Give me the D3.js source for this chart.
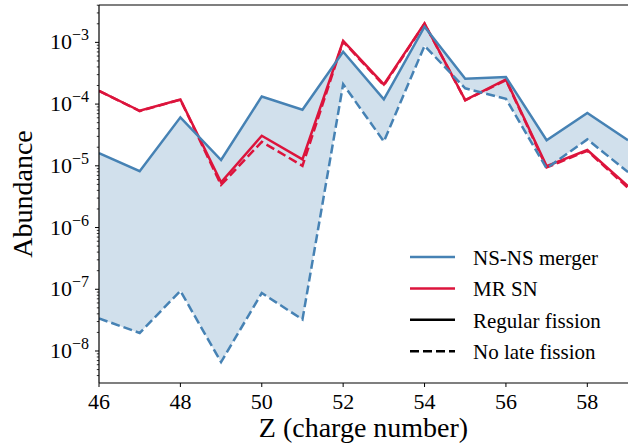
<!DOCTYPE html>
<html>
<head>
<meta charset="utf-8">
<script src="https://cdn.jsdelivr.net/npm/d3@7"></script>
<style>
  text { font-family: "Liberation Serif", "Times New Roman", Tinos, FreeSerif, Georgia, serif; }
</style>
</head>
<body style="margin:0">
<script>
var W = 628, H = 443;
var margin = {top: 5, right: 0, bottom: 60, left: 99};
var width = W - margin.left - margin.right,
    height = 383 - margin.top;

var serif = "'Liberation Serif', 'Times New Roman', Tinos, FreeSerif, Georgia, serif";

// charge number Z
var zs = [46, 47, 48, 49, 50, 51, 52, 53, 54, 55, 56, 57, 58, 59];

// NS-NS merger, regular fission / no late fission
var nsRegular = [1.6e-5, 8.2e-6, 6.1e-5, 1.24e-5, 1.33e-4, 8.1e-5, 7.05e-4, 1.19e-4, 1.79e-3, 2.57e-4, 2.74e-4, 2.6e-5, 7.2e-5, 2.6e-5];
var nsNoLate  = [3.37e-8, 1.96e-8, 9.4e-8, 6.6e-9, 8.7e-8, 3.24e-8, 2.1e-4, 2.48e-5, 8.8e-4, 1.8e-4, 1.22e-4, 9.1e-6, 2.68e-5, 7.9e-6];

// MR SN, regular fission / no late fission
var mrRegular = [1.64e-4, 7.8e-5, 1.19e-4, 5.4e-6, 3.07e-5, 1.27e-5, 1.06e-3, 2.08e-4, 2.03e-3, 1.16e-4, 2.51e-4, 9.9e-6, 1.8e-5, 4.7e-6];
var mrNoLate  = [1.64e-4, 7.7e-5, 1.18e-4, 4.9e-6, 2.45e-5, 1.0e-5, 1.03e-3, 2.0e-4, 2.0e-3, 1.15e-4, 2.45e-4, 9.4e-6, 1.75e-5, 4.4e-6];

var xTicks = [46, 48, 50, 52, 54, 56, 58];
var yTicks = [-8, -7, -6, -5, -4, -3];

var legendItems = [
  {name: "NS-NS merger", color: "#4682b4", dash: null},
  {name: "MR SN", color: "#dc143c", dash: null},
  {name: "Regular fission", color: "#000", dash: null},
  {name: "No late fission", color: "#000", dash: "9,4"}
];

var svg = d3.select("body").append("svg")
    .attr("width", W)
    .attr("height", H)
    .style("font-family", serif);

var xScale = d3.scaleLinear().domain([46, 59]).range([margin.left, margin.left + width]);
var yScale = d3.scaleLog().domain([3.03e-9, 4.03e-3]).range([margin.top + height, margin.top]);

// plot marks, clipped to the axes box
svg.append("clipPath").attr("id", "clip")
    .append("rect").attr("x", margin.left).attr("y", margin.top)
    .attr("width", width).attr("height", height);

var plot = svg.append("g").attr("clip-path", "url(#clip)");

// shaded band between the two NS-NS curves
var band = d3.area()
    .x(function(d, i) { return xScale(zs[i]); })
    .y0(function(d, i) { return yScale(nsNoLate[i]); })
    .y1(function(d, i) { return yScale(nsRegular[i]); });

plot.append("path")
    .datum(zs)
    .attr("d", band)
    .attr("fill", "#4682b4")
    .attr("fill-opacity", 0.25)
    .attr("stroke", "none");

var line = d3.line()
    .x(function(d, i) { return xScale(zs[i]); })
    .y(function(d) { return yScale(d); });

var series = [
  {values: mrNoLate, color: "#dc143c", dash: "9,4"},
  {values: mrRegular, color: "#dc143c", dash: null},
  {values: nsNoLate, color: "#4682b4", dash: "9,4"},
  {values: nsRegular, color: "#4682b4", dash: null}
];

series.forEach(function(s) {
  plot.append("path")
      .datum(s.values)
      .attr("d", line)
      .attr("fill", "none")
      .attr("stroke", s.color)
      .attr("stroke-width", 2.5)
      .attr("stroke-dasharray", s.dash);
});

var x0 = margin.left, x1 = margin.left + width, y0 = margin.top, y1 = margin.top + height;

// frame (left, bottom, top)
[[x0, y0, x0, y1], [x0, y1, x1, y1], [x0, y0, x1, y0]].forEach(function(s) {
  svg.append("line").attr("x1", s[0]).attr("y1", s[1]).attr("x2", s[2]).attr("y2", s[3])
      .attr("stroke", "#000").attr("stroke-width", 1.2);
});

// x ticks
xTicks.forEach(function(t) {
  var x = xScale(t);
  svg.append("line").attr("x1", x).attr("x2", x).attr("y1", y1).attr("y2", y1 + 4)
      .attr("stroke", "#000").attr("stroke-width", 1);
  svg.append("text")
      .attr("x", x).attr("y", y1 + 26)
      .attr("text-anchor", "middle")
      .style("font-family", serif)
      .style("font-size", "22px")
      .text(t);
});

// y minor ticks
var dom = yScale.domain();
for (var e = -9; e <= -3; e++) {
  for (var m = 2; m <= 9; m++) {
    var v = m * Math.pow(10, e);
    if (v < dom[0] || v > dom[1]) continue;
    var yy = yScale(v);
    svg.append("line").attr("x1", x0 - 2.2).attr("x2", x0).attr("y1", yy).attr("y2", yy)
        .attr("stroke", "#000").attr("stroke-width", 0.8);
  }
}

// y major ticks
yTicks.forEach(function(p) {
  var y = yScale(Math.pow(10, p));
  svg.append("line").attr("x1", x0 - 4).attr("x2", x0).attr("y1", y).attr("y2", y)
      .attr("stroke", "#000").attr("stroke-width", 1);
  svg.append("text")
      .attr("x", x0 - 27).attr("y", y + 7)
      .attr("text-anchor", "end")
      .style("font-family", serif)
      .style("font-size", "22px")
      .text("10");
  svg.append("text")
      .attr("x", x0 - 27).attr("y", y - 2)
      .style("font-family", serif)
      .style("font-size", "16px")
      .text("\u2212" + (-p));
});

// axis labels
svg.append("text")
    .attr("x", x0 + width / 2).attr("y", y1 + 54)
    .attr("text-anchor", "middle")
    .style("font-family", serif)
    .style("font-size", "28px")
    .text("Z (charge number)");

svg.append("text")
    .attr("transform", "translate(" + (x0 - 67) + "," + (y0 + height / 2) + ") rotate(-90)")
    .attr("text-anchor", "middle")
    .style("font-family", serif)
    .style("font-size", "28px")
    .text("Abundance");

// legend
legendItems.forEach(function(d, i) {
  var ly = 257 + i * 31.4;
  svg.append("line")
      .attr("x1", 410).attr("x2", 455).attr("y1", ly).attr("y2", ly)
      .attr("stroke", d.color)
      .attr("stroke-width", 2.5)
      .attr("stroke-dasharray", d.dash);
  svg.append("text")
      .attr("x", 473).attr("y", ly + 8)
      .style("font-family", serif)
      .style("font-size", "21px")
      .text(d.name);
});
</script>
</body>
</html>
